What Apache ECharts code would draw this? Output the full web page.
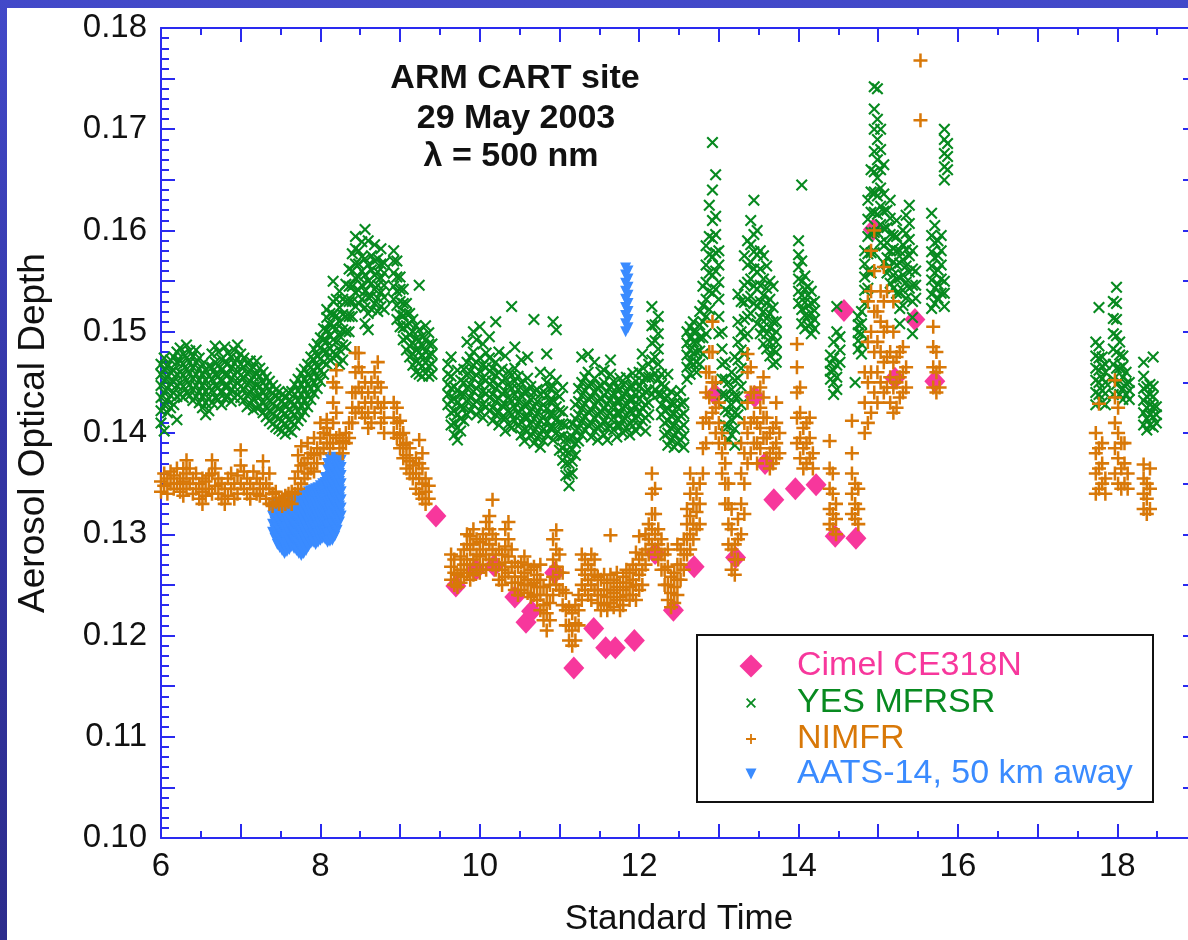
<!DOCTYPE html>
<html>
<head>
<meta charset="UTF-8">
<title>Aerosol Optical Depth - ARM CART site, 29 May 2003</title>
<script src="https://cdn.jsdelivr.net/npm/echarts@6/dist/echarts.min.js"></script>
<style>
  html, body { margin: 0; padding: 0; width: 1188px; height: 940px; overflow: hidden;
    background: linear-gradient(180deg, #4249c9 0%, #3436a6 45%, #2c2c8c 100%); }
  #chart { position: absolute; left: 7px; top: 8px; width: 1181px; height: 932px; background: #fff; }
</style>
</head>
<body>
<div id="chart"></div>
<script>
// tick labels
var xLabels = [6, 8, 10, 12, 14, 16, 18];
var yLabels = ['0.10', '0.11', '0.12', '0.13', '0.14', '0.15', '0.16', '0.17', '0.18'];

// Cimel CE318N sun photometer
var cimel = [
  [9.45,0.1318],[9.70,0.1249],[9.95,0.1265],[10.18,0.1269],[10.44,0.1238],[10.58,0.1213],
  [10.65,0.1224],[10.94,0.1262],[11.18,0.1168],[11.43,0.1207],[11.58,0.1188],[11.70,0.1188],
  [11.94,0.1195],[12.20,0.1281],[12.43,0.1225],[12.69,0.1268],[12.95,0.1438],[13.21,0.1277],
  [13.45,0.1436],[13.58,0.1370],[13.69,0.1334],[13.96,0.1345],[14.22,0.1349],[14.46,0.1298],
  [14.57,0.1521],[14.72,0.1296],[14.94,0.1601],[15.21,0.1454],[15.46,0.1512],[15.71,0.1451]
];

// YES MFRSR: time, then the values read at that time
var mfrsrRows = [
  [6.00,.1410,.1422,.1435,.1447,.1458,.1468],[6.04,.1402,.1428,.1440,.1452,.1463,.1474],[6.08,.1420,.1432,.1444,.1455,.1466],
  [6.12,.1425,.1437,.1449,.1460,.1472],[6.16,.1428,.1440,.1451,.1462,.1475],[6.20,.1413,.1436,.1447,.1458,.1470,.1480],
  [6.24,.1438,.1449,.1460,.1471,.1484],[6.28,.1435,.1446,.1457,.1468,.1478],[6.32,.1440,.1452,.1463,.1474,.1487],
  [6.36,.1437,.1448,.1459,.1470,.1481],[6.40,.1432,.1443,.1454,.1465,.1476],[6.44,.1436,.1447,.1458,.1470,.1482],
  [6.48,.1430,.1441,.1452,.1463,.1474],[6.52,.1425,.1436,.1447,.1458,.1468],[6.56,.1418,.1430,.1441,.1452,.1462],
  [6.60,.1422,.1434,.1445,.1456,.1466],[6.64,.1430,.1442,.1453,.1465,.1478],[6.68,.1435,.1447,.1458,.1470,.1486],
  [6.72,.1433,.1445,.1456,.1467,.1480],[6.76,.1428,.1440,.1451,.1462,.1473],[6.80,.1434,.1446,.1458,.1470,.1485],
  [6.84,.1436,.1447,.1458,.1469,.1479],[6.88,.1431,.1442,.1453,.1464,.1475],[6.92,.1435,.1446,.1457,.1469,.1482],
  [6.96,.1438,.1450,.1461,.1473,.1487],[7.00,.1435,.1446,.1457,.1468,.1478],[7.04,.1432,.1443,.1454,.1465,.1474],
  [7.08,.1426,.1437,.1448,.1459,.1469],[7.12,.1429,.1440,.1451,.1462,.1471],[7.16,.1423,.1434,.1445,.1456,.1465],
  [7.20,.1425,.1436,.1447,.1458,.1471],[7.24,.1426,.1436,.1446,.1456,.1464],[7.28,.1420,.1430,.1440,.1450,.1460],
  [7.32,.1416,.1426,.1436,.1446,.1455],[7.36,.1412,.1422,.1432,.1442,.1451],[7.40,.1409,.1419,.1429,.1439,.1447],
  [7.44,.1406,.1416,.1426,.1436,.1443],[7.48,.1404,.1414,.1424,.1434,.1441],[7.52,.1402,.1412,.1422,.1431,.1438],
  [7.56,.1399,.1409,.1419,.1428,.1436],[7.60,.1403,.1413,.1423,.1432,.1440],[7.64,.1401,.1411,.1421,.1431,.1441],
  [7.68,.1408,.1418,.1428,.1438,.1448],[7.72,.1412,.1422,.1432,.1442,.1453],[7.76,.1416,.1427,.1438,.1448,.1459],
  [7.80,.1421,.1432,.1443,.1453,.1463],[7.84,.1426,.1437,.1448,.1458,.1468],[7.88,.1433,.1444,.1455,.1465,.1475],
  [7.92,.1439,.1450,.1461,.1472,.1483],[7.96,.1444,.1455,.1466,.1477,.1488],[8.00,.1451,.1462,.1473,.1484,.1494],
  [8.04,.1458,.1470,.1481,.1492,.1503],[8.08,.1468,.1480,.1491,.1502,.1514,.1522],[8.12,.1472,.1484,.1496,.1507,.1518],
  [8.16,.1480,.1492,.1505,.1517,.1530,.1550],[8.20,.1476,.1490,.1503,.1516,.1532],[8.24,.1468,.1482,.1496,.1510,.1524,.1540],
  [8.28,.1472,.1487,.1502,.1517,.1532],[8.32,.1485,.1500,.1515,.1530,.1547],[8.36,.1500,.1515,.1530,.1545,.1562],
  [8.40,.1515,.1530,.1545,.1560,.1577],[8.44,.1525,.1539,.1553,.1567,.1582,.1594],[8.48,.1528,.1541,.1554,.1567,.1580],
  [8.52,.1532,.1546,.1560,.1574,.1589],[8.56,.1508,.1524,.1540,.1556,.1572,.1601],[8.60,.1502,.1518,.1534,.1550,.1566,.1590],
  [8.64,.1522,.1535,.1548,.1561,.1575],[8.68,.1528,.1542,.1556,.1570,.1586],[8.72,.1520,.1533,.1546,.1559,.1572],
  [8.76,.1525,.1539,.1553,.1567,.1582],[8.80,.1522,.1534,.1546,.1558,.1568],[8.92,.1532,.1545,.1558,.1570,.1580],
  [8.96,.1512,.1526,.1540,.1554,.1570],[9.00,.1505,.1517,.1530,.1542,.1554],[9.04,.1492,.1504,.1516,.1528,.1542],
  [9.08,.1482,.1494,.1506,.1518,.1528],[9.12,.1475,.1486,.1497,.1508,.1518],[9.16,.1467,.1478,.1489,.1500,.1512],
  [9.20,.1460,.1471,.1482,.1493,.1506],[9.24,.1458,.1469,.1480,.1491,.1502,.1546],[9.28,.1456,.1466,.1476,.1486,.1496],
  [9.32,.1459,.1470,.1481,.1492,.1506],[9.36,.1456,.1466,.1477,.1488,.1499],[9.40,.1458,.1468,.1478,.1488],
  [9.60,.1428,.1438,.1448,.1458,.1468],[9.64,.1408,.1420,.1432,.1444,.1456,.1475],[9.68,.1398,.1410,.1422,.1434,.1446],
  [9.72,.1393,.1405,.1418,.1430,.1442,.1462],[9.76,.1402,.1414,.1426,.1438,.1452],[9.80,.1412,.1425,.1438,.1450,.1463],
  [9.84,.1418,.1431,.1444,.1457,.1470,.1490],[9.88,.1422,.1435,.1448,.1461,.1475],[9.92,.1428,.1441,.1454,.1467,.1480,.1500],
  [9.96,.1418,.1431,.1444,.1457,.1470,.1492],[10.00,.1422,.1435,.1448,.1461,.1474,.1505],[10.04,.1415,.1428,.1441,.1454,.1467,.1488],
  [10.08,.1426,.1439,.1452,.1465,.1479],[10.12,.1422,.1435,.1448,.1461,.1474,.1495],[10.16,.1412,.1425,.1438,.1451,.1464],
  [10.20,.1418,.1431,.1444,.1457,.1470,.1510],[10.24,.1408,.1421,.1434,.1447,.1460,.1480],[10.28,.1415,.1427,.1439,.1451,.1463],
  [10.32,.1402,.1415,.1428,.1441,.1454,.1476],[10.36,.1409,.1422,.1435,.1448,.1461],[10.40,.1405,.1418,.1431,.1444,.1457,.1525],
  [10.44,.1412,.1425,.1438,.1451,.1464,.1485],[10.48,.1407,.1419,.1431,.1443,.1456],[10.52,.1398,.1411,.1424,.1437,.1450,.1472],
  [10.56,.1392,.1404,.1416,.1428,.1441],[10.60,.1402,.1415,.1428,.1441,.1454,.1475],[10.64,.1397,.1409,.1421,.1433,.1446],
  [10.68,.1390,.1402,.1414,.1426,.1440,.1512],[10.72,.1395,.1407,.1419,.1431,.1443],[10.76,.1386,.1399,.1412,.1425,.1438,.1460],
  [10.80,.1392,.1404,.1416,.1428,.1441],[10.84,.1398,.1411,.1424,.1437,.1450,.1478],[10.88,.1405,.1418,.1431,.1444,.1458],
  [10.92,.1393,.1406,.1419,.1432,.1446,.1510],[10.96,.1400,.1413,.1426,.1439,.1452,.1502],[11.00,.1383,.1396,.1409,.1422,.1436],
  [11.04,.1373,.1385,.1397,.1409,.1421,.1445],[11.08,.1358,.1370,.1382,.1394,.1408],[11.12,.1348,.1359,.1370,.1381,.1394],
  [11.16,.1360,.1372,.1384,.1396,.1409],[11.20,.1378,.1390,.1402,.1414,.1428],[11.24,.1392,.1405,.1418,.1431,.1444],
  [11.28,.1398,.1411,.1424,.1437,.1450,.1475],[11.32,.1403,.1416,.1429,.1442,.1455],[11.36,.1408,.1421,.1434,.1447,.1460,.1478],
  [11.40,.1396,.1409,.1422,.1435,.1448],[11.44,.1402,.1415,.1428,.1441,.1454,.1470],[11.48,.1393,.1406,.1419,.1432,.1445],
  [11.52,.1407,.1420,.1433,.1446,.1460],[11.56,.1398,.1411,.1424,.1437,.1450,.1462],[11.60,.1393,.1405,.1417,.1429,.1441],
  [11.64,.1407,.1420,.1433,.1446,.1458,.1472],[11.68,.1403,.1415,.1427,.1439,.1451],[11.72,.1396,.1408,.1420,.1432,.1445],
  [11.76,.1407,.1419,.1431,.1443,.1454],[11.80,.1400,.1412,.1424,.1436,.1448],[11.84,.1405,.1417,.1429,.1441,.1455],
  [11.88,.1398,.1410,.1422,.1434,.1446],[11.92,.1407,.1420,.1433,.1446,.1459],[11.96,.1402,.1414,.1426,.1438,.1451],
  [12.00,.1407,.1420,.1433,.1446,.1460],[12.04,.1412,.1425,.1438,.1451,.1465,.1478],[12.08,.1402,.1415,.1428,.1441,.1455],
  [12.12,.1418,.1430,.1442,.1455,.1468],[12.16,.1438,.1455,.1472,.1489,.1506,.1525],[12.20,.1443,.1459,.1475,.1491,.1507],
  [12.24,.1438,.1453,.1468,.1483,.1498,.1515],[12.28,.1418,.1428,.1438,.1448,.1458],[12.32,.1398,.1410,.1422,.1434,.1446],
  [12.36,.1388,.1400,.1412,.1424,.1436,.1458],[12.40,.1393,.1405,.1417,.1429,.1441],[12.44,.1386,.1397,.1408,.1419,.1429],
  [12.48,.1390,.1402,.1414,.1426,.1438],[12.52,.1393,.1405,.1417,.1429,.1442],[12.56,.1386,.1397,.1408,.1419,.1430],
  [12.60,.1453,.1465,.1477,.1489,.1500],[12.64,.1458,.1470,.1482,.1494,.1505],[12.68,.1468,.1479,.1490,.1500,.1510],
  [12.72,.1460,.1470,.1480,.1490,.1500],[12.76,.1468,.1481,.1494,.1507,.1520],[12.80,.1478,.1494,.1510,.1526,.1545],
  [12.84,.1498,.1515,.1532,.1549,.1566,.1585],[12.88,.1522,.1540,.1558,.1576,.1594,.1625],
  [12.92,.1538,.1556,.1574,.1592,.1610,.1640,.1687],[12.96,.1542,.1560,.1578,.1596,.1614,.1655],
  [13.00,.1498,.1515,.1532,.1549,.1566,.1580],[13.04,.1438,.1453,.1468,.1483,.1500],[13.08,.1408,.1423,.1438,.1453,.1470],
  [13.12,.1393,.1407,.1421,.1435,.1450],[13.16,.1398,.1413,.1428,.1443,.1460],[13.20,.1388,.1404,.1420,.1436,.1452,.1475],
  [13.24,.1418,.1436,.1454,.1472,.1490,.1510,.1537],[13.28,.1428,.1446,.1464,.1482,.1500,.1530],
  [13.32,.1478,.1495,.1512,.1529,.1546,.1575],[13.36,.1498,.1515,.1532,.1549,.1566,.1590],
  [13.40,.1518,.1535,.1552,.1569,.1586,.1610],[13.44,.1528,.1545,.1562,.1579,.1596,.1630],
  [13.48,.1508,.1525,.1542,.1559,.1576,.1600],[13.52,.1498,.1514,.1530,.1546,.1562,.1580],
  [13.56,.1488,.1504,.1520,.1536,.1552,.1575],[13.60,.1483,.1498,.1513,.1528,.1543,.1565],
  [13.64,.1476,.1490,.1504,.1518,.1532,.1550],[13.68,.1468,.1482,.1496,.1510,.1524,.1545],[13.72,.1470,.1480,.1490,.1500,.1510],
  [14.00,.1528,.1540,.1552,.1564,.1576,.1590],[14.04,.1508,.1522,.1536,.1550,.1570,.1645],[14.08,.1503,.1516,.1529,.1542,.1555],
  [14.12,.1506,.1516,.1526,.1536,.1545],[14.16,.1498,.1508,.1518,.1528,.1540],[14.20,.1503,.1512,.1521,.1530],
  [14.40,.1453,.1461,.1469,.1477],[14.44,.1438,.1450,.1462,.1474,.1490],[14.48,.1443,.1455,.1467,.1500,.1525],
  [14.52,.1470,.1482,.1495],[14.71,.1450],[14.75,.1483,.1491,.1499,.1507,.1515],[14.79,.1478,.1488,.1498,.1508,.1520],
  [14.83,.1528,.1541,.1554,.1567,.1580],[14.87,.1543,.1560,.1577,.1594,.1611,.1630],[14.91,.1558,.1578,.1598,.1618,.1638,.1660],
  [14.95,.1578,.1598,.1618,.1638,.1658,.1678,.1700,.1720,.1742],[14.99,.1598,.1616,.1634,.1652,.1670,.1690,.1710,.1740],
  [15.03,.1588,.1606,.1624,.1642,.1660,.1680,.1700],[15.07,.1568,.1585,.1602,.1619,.1636,.1665],
  [15.11,.1558,.1573,.1588,.1603,.1620],[15.15,.1548,.1564,.1580,.1596,.1612,.1630],[15.19,.1543,.1556,.1569,.1582,.1595],
  [15.23,.1538,.1552,.1566,.1580,.1594,.1610],[15.27,.1508,.1523,.1538,.1553,.1568,.1580],
  [15.31,.1526,.1541,.1556,.1571,.1586,.1600],[15.35,.1533,.1549,.1565,.1581,.1597,.1615],
  [15.39,.1543,.1559,.1575,.1591,.1607,.1625],[15.43,.1498,.1514,.1530,.1546,.1562,.1580],[15.47,.1533,.1546,.1560],
  [15.67,.1523,.1537,.1551,.1565,.1579,.1595,.1617],[15.71,.1528,.1543,.1558,.1573,.1588,.1605],
  [15.75,.1533,.1547,.1561,.1575,.1590],[15.79,.1538,.1552,.1566,.1580,.1595],
  [15.83,.1525,.1538,.1550,.1650,.1663,.1676,.1690,.1700],[15.87,.1660,.1673,.1686],
  [17.73,.1428,.1440,.1452,.1464,.1476,.1490],[17.77,.1438,.1450,.1462,.1474,.1486,.1524],
  [17.81,.1430,.1442,.1454,.1466,.1475],[17.85,.1428,.1439,.1450,.1460,.1468],
  [17.95,.1438,.1453,.1468,.1483,.1498,.1513,.1530],[17.99,.1448,.1464,.1480,.1496,.1512,.1528,.1544],
  [18.03,.1438,.1451,.1464,.1477,.1490],[18.07,.1433,.1444,.1455,.1466,.1476],[18.11,.1438,.1449,.1460],
  [18.15,.1433,.1442,.1450],[18.33,.1408,.1420,.1432,.1444,.1456,.1470],[18.37,.1403,.1414,.1425,.1436,.1446],
  [18.41,.1408,.1418,.1428,.1438,.1448],[18.45,.1406,.1416,.1426,.1436,.1446,.1475],[18.49,.1410,.1418,.1426]
];

// NIMFR: time, then the values read at that time
var nimfrRows = [
  [6.00,.1342,.1352],[6.04,.1348,.1360],[6.08,.1340,.1355],[6.12,.1350,.1362],[6.16,.1345,.1358],[6.20,.1350,.1365],
  [6.24,.1342,.1355],[6.28,.1338,.1352,.1365],[6.32,.1345,.1360,.1373],[6.36,.1350,.1365],[6.40,.1340,.1355],
  [6.44,.1345,.1360],[6.48,.1335,.1350],[6.52,.1330,.1342,.1355],[6.56,.1338,.1352],[6.60,.1345,.1358],
  [6.64,.1340,.1360,.1373],[6.68,.1348,.1365],[6.72,.1340,.1355],[6.76,.1335,.1350],[6.80,.1330,.1345],
  [6.84,.1338,.1355],[6.88,.1345,.1360],[6.92,.1335,.1350],[6.96,.1340,.1358],[7.00,.1350,.1368,.1383],
  [7.04,.1345,.1362],[7.08,.1340,.1355],[7.12,.1335,.1350],[7.16,.1345,.1362],[7.20,.1340,.1355],
  [7.24,.1338,.1350],[7.28,.1345,.1360,.1372],[7.32,.1335,.1350],[7.36,.1330,.1345,.1360],[7.40,.1328,.1340],
  [7.44,.1332,.1342],[7.48,.1330,.1336],[7.52,.1328,.1334],[7.56,.1330,.1338],[7.60,.1332,.1340],
  [7.64,.1330,.1342],[7.68,.1340,.1355],[7.72,.1345,.1362,.1378],[7.76,.1350,.1368,.1387],[7.80,.1355,.1370],
  [7.84,.1360,.1375,.1390],[7.88,.1365,.1380],[7.92,.1362,.1378,.1395],[7.96,.1370,.1385],[8.00,.1380,.1395,.1410],
  [8.04,.1385,.1400],[8.08,.1390,.1405,.1413],[8.12,.1385,.1398],[8.16,.1390,.1410,.1430,.1450],
  [8.20,.1395,.1420,.1445,.1462],[8.24,.1385,.1398],[8.28,.1380,.1392],[8.32,.1390,.1400],[8.36,.1395,.1410],
  [8.40,.1410,.1425,.1440],[8.44,.1420,.1440,.1460,.1479],[8.48,.1425,.1445,.1465,.1479],[8.52,.1420,.1440,.1460],
  [8.56,.1415,.1430,.1450],[8.60,.1405,.1420,.1440],[8.64,.1410,.1430,.1450],[8.68,.1420,.1440,.1460],
  [8.72,.1430,.1450,.1470],[8.76,.1410,.1425,.1445],[8.80,.1400,.1415,.1430],[8.92,.1400,.1415,.1430],
  [8.96,.1395,.1410,.1425],[9.00,.1385,.1398,.1412],[9.04,.1375,.1388,.1400],[9.08,.1365,.1378,.1390],
  [9.12,.1360,.1372,.1385],[9.16,.1355,.1368],[9.20,.1345,.1360,.1375],[9.24,.1340,.1355,.1370,.1393],
  [9.28,.1335,.1350,.1365,.1380],[9.32,.1330,.1342,.1355],[9.36,.1335,.1348],
  [9.64,.1255,.1268,.1280],[9.68,.1250,.1262,.1275],[9.72,.1248,.1260],[9.76,.1252,.1265,.1278],
  [9.80,.1258,.1270,.1285],[9.84,.1262,.1275,.1290,.1300],[9.88,.1255,.1270,.1285,.1298],[9.92,.1260,.1275,.1290,.1305],
  [9.96,.1265,.1280,.1295],[10.00,.1262,.1278,.1292],[10.04,.1270,.1285,.1300],[10.08,.1265,.1280,.1295,.1312],
  [10.12,.1275,.1290,.1305,.1318],[10.16,.1270,.1285,.1300,.1334],[10.20,.1265,.1280,.1295],[10.24,.1255,.1270,.1285],
  [10.28,.1250,.1265,.1280],[10.32,.1258,.1272,.1288,.1305],[10.36,.1262,.1278,.1295,.1312],[10.40,.1252,.1268,.1285],
  [10.44,.1245,.1258,.1272],[10.48,.1240,.1252,.1268],[10.52,.1245,.1258,.1272],[10.56,.1250,.1262,.1278],
  [10.60,.1242,.1255,.1270],[10.64,.1238,.1250,.1265],[10.68,.1240,.1252,.1268],[10.72,.1235,.1248,.1260],
  [10.76,.1225,.1240,.1255,.1270],[10.80,.1215,.1230,.1248],[10.84,.1205,.1222,.1240],[10.88,.1215,.1232,.1250],
  [10.92,.1240,.1258,.1275,.1295],[10.96,.1250,.1268,.1285,.1304],[11.00,.1245,.1262,.1280],[11.04,.1230,.1245,.1262],
  [11.08,.1210,.1225,.1242],[11.12,.1195,.1210,.1228],[11.16,.1190,.1205,.1222],[11.20,.1195,.1212,.1230],
  [11.24,.1210,.1225,.1240],[11.28,.1235,.1250,.1265,.1280],[11.32,.1245,.1260,.1275],[11.36,.1240,.1255,.1270],
  [11.40,.1235,.1250,.1265,.1280],[11.44,.1245,.1260,.1275],[11.48,.1232,.1245,.1258],[11.52,.1225,.1240,.1255],
  [11.56,.1230,.1245,.1260],[11.60,.1225,.1238,.1252],[11.64,.1232,.1245,.1260,.1299],[11.68,.1228,.1242,.1255],
  [11.72,.1235,.1248,.1262],[11.76,.1225,.1238,.1252],[11.80,.1230,.1245,.1258],[11.84,.1240,.1252,.1265],
  [11.88,.1235,.1248,.1262],[11.92,.1240,.1255,.1270],[11.96,.1235,.1250,.1265,.1282],[12.00,.1245,.1260,.1275,.1298],
  [12.04,.1250,.1265,.1280],[12.08,.1270,.1285,.1300],[12.12,.1280,.1295,.1310],[12.16,.1290,.1305,.1320,.1340,.1360],
  [12.20,.1285,.1300,.1320,.1345],[12.24,.1275,.1290,.1305],[12.28,.1265,.1280,.1295],[12.32,.1250,.1265,.1280],
  [12.36,.1235,.1250,.1268,.1285],[12.40,.1228,.1242,.1258],[12.44,.1232,.1248,.1262],[12.48,.1240,.1255,.1270,.1290],
  [12.52,.1255,.1270,.1285],[12.56,.1265,.1280,.1295],[12.60,.1280,.1295,.1310,.1325],[12.64,.1285,.1300,.1318,.1340,.1360],
  [12.68,.1295,.1310,.1330,.1350],[12.72,.1305,.1322,.1340],[12.76,.1310,.1330,.1350],[12.80,.1360,.1385,.1410],
  [12.84,.1390,.1415,.1440,.1460],[12.88,.1410,.1435,.1460,.1480],[12.92,.1420,.1450,.1480,.1510],[12.96,.1400,.1425,.1450],
  [13.00,.1390,.1410,.1430],[13.04,.1360,.1380,.1400],[13.08,.1330,.1350,.1370,.1390],[13.12,.1290,.1310,.1330,.1350],
  [13.16,.1265,.1285,.1305,.1325],[13.20,.1260,.1275,.1290],[13.24,.1275,.1295,.1315],[13.28,.1300,.1330,.1360,.1390],
  [13.32,.1320,.1350,.1380,.1410],[13.36,.1370,.1400,.1430,.1460,.1478],[13.40,.1380,.1410,.1440,.1465],
  [13.44,.1390,.1415,.1440],[13.48,.1370,.1390,.1410],[13.52,.1385,.1405,.1425,.1445],[13.56,.1395,.1415,.1435,.1455],
  [13.60,.1375,.1395,.1415],[13.64,.1365,.1380,.1400],[13.68,.1370,.1385,.1405],[13.72,.1375,.1390,.1410,.1430],
  [13.76,.1380,.1400],[13.98,.1390,.1415,.1440,.1465,.1488],[14.02,.1375,.1395,.1420,.1445],[14.06,.1365,.1385,.1405],
  [14.10,.1370,.1390,.1410],[14.14,.1375,.1395,.1415],[14.18,.1365,.1380],[14.39,.1310,.1325,.1345,.1365,.1392],
  [14.43,.1305,.1320,.1340,.1360],[14.47,.1300,.1315,.1330],[14.67,.1320,.1340,.1360,.1380,.1412],
  [14.71,.1315,.1330,.1350],[14.75,.1310,.1325,.1345],[14.83,.1400,.1430,.1460],[14.87,.1410,.1450,.1490,.1530],
  [14.91,.1420,.1460,.1500,.1540,.1580],[14.95,.1440,.1480,.1520,.1560,.1600],[14.99,.1430,.1460,.1490,.1520],
  [15.03,.1450,.1480,.1510,.1540],[15.07,.1440,.1470,.1500,.1530,.1564],[15.11,.1445,.1475,.1505,.1540],
  [15.15,.1430,.1455,.1480],[15.19,.1420,.1445,.1470,.1500,.1530],[15.23,.1425,.1450,.1475],[15.27,.1435,.1455,.1480],
  [15.31,.1440,.1460,.1485],[15.35,.1445,.1465],[15.53,.1709,.1768],[15.69,.1445,.1465,.1485,.1505],
  [15.73,.1440,.1460,.1480],[15.77,.1445,.1465],
  [17.73,.1340,.1360,.1380,.1400],[17.77,.1345,.1365,.1385,.1429],[17.81,.1350,.1370,.1390],[17.85,.1340,.1355],
  [17.97,.1360,.1385,.1410,.1435,.1452],[18.01,.1350,.1375,.1400,.1425],[18.05,.1345,.1365,.1390],
  [18.09,.1350,.1370,.1390],[18.13,.1345,.1360],[18.33,.1325,.1340,.1355,.1369],[18.37,.1320,.1335,.1350],
  [18.41,.1325,.1345,.1365]
];

// AATS-14 airborne sun photometer: time, then values
var aatsRows = [
  [7.40,.1302,.1310,.1318,.1326],[7.43,.1296,.1304,.1312,.1320,.1328],[7.46,.1290,.1298,.1306,.1314,.1322,.1330],
  [7.49,.1287,.1295,.1303,.1311,.1319,.1327],[7.52,.1284,.1292,.1300,.1308,.1316,.1324,.1330],
  [7.55,.1281,.1289,.1297,.1305,.1313,.1321,.1329],[7.58,.1283,.1291,.1299,.1307,.1315,.1323,.1330],
  [7.61,.1285,.1293,.1301,.1309,.1317,.1325,.1331],[7.64,.1288,.1296,.1304,.1312,.1320,.1328,.1333],
  [7.67,.1286,.1294,.1302,.1310,.1318,.1326,.1334],[7.70,.1284,.1292,.1300,.1308,.1316,.1324,.1332,.1336],
  [7.73,.1281,.1289,.1297,.1305,.1313,.1321,.1329,.1337],[7.76,.1279,.1287,.1295,.1303,.1311,.1319,.1327,.1335,.1338],
  [7.79,.1281,.1289,.1297,.1305,.1313,.1321,.1329,.1337,.1340],[7.82,.1284,.1292,.1300,.1308,.1316,.1324,.1332,.1340],
  [7.85,.1288,.1296,.1304,.1312,.1320,.1328,.1336,.1342],[7.88,.1291,.1299,.1307,.1315,.1323,.1331,.1339,.1343],
  [7.91,.1292,.1300,.1308,.1316,.1324,.1332,.1340,.1344],[7.94,.1290,.1298,.1306,.1314,.1322,.1330,.1338,.1345],
  [7.97,.1292,.1300,.1308,.1316,.1324,.1332,.1340,.1346],[8.00,.1294,.1302,.1310,.1318,.1326,.1334,.1342,.1348],
  [8.03,.1296,.1304,.1312,.1320,.1328,.1336,.1344,.1350],[8.06,.1295,.1303,.1311,.1319,.1327,.1335,.1343,.1351,.1356],
  [8.09,.1292,.1300,.1308,.1316,.1324,.1332,.1340,.1348,.1356,.1364,.1370],
  [8.12,.1293,.1301,.1309,.1317,.1325,.1333,.1341,.1349,.1357,.1365,.1374],
  [8.15,.1294,.1302,.1310,.1318,.1326,.1334,.1342,.1350,.1358,.1366,.1376],
  [8.18,.1298,.1306,.1314,.1322,.1330,.1338,.1346,.1354,.1362,.1370,.1375],
  [8.21,.1304,.1312,.1320,.1328,.1336,.1344,.1352,.1360,.1368,.1375],
  [8.24,.1312,.1320,.1328,.1336,.1344,.1352,.1360,.1368,.1375],[8.26,.1318,.1326,.1334,.1342,.1350,.1358,.1366,.1373],
  [11.83,.1500,.1508,.1516,.1524,.1532,.1540,.1548,.1556,.1563],[11.86,.1504,.1512,.1520,.1528,.1536,.1544,.1552,.1560]
];

function rowsToPoints(rows) {
  var pts = [];
  rows.forEach(function (r) {
    for (var i = 1; i < r.length; i++) pts.push([r[0], r[i]]);
  });
  return pts;
}

var FONT = '"Liberation Sans", Arial, Helvetica, sans-serif';
var AXIS_BLUE = '#2a2af0';
var PINK = '#f7379c', GREEN = '#088a20', ORANGE = '#d87808', BLUE = '#3a8bff';

var crossPath = 'path://M0,1.25L1.25,0L5,3.75L8.75,0L10,1.25L6.25,5L10,8.75L8.75,10L5,6.25L1.25,10L0,8.75L3.75,5Z';
var plusPath = 'path://M4.1,0H5.9V4.1H10V5.9H5.9V10H4.1V5.9H0V4.1H4.1Z';
var triPath = 'path://M0,0L10,0L5,10Z';
var diamondPath = 'path://M5,0L10,5L5,10L0,5Z';

var tickStyle = { color: AXIS_BLUE, width: 2 };

function xAxisOpt(pos, showLabel) {
  return {
    type: 'value', position: pos, min: 6, max: 19, interval: 1,
    axisLine: { show: true, onZero: false, lineStyle: tickStyle },
    axisTick: { show: true, inside: true, length: 14, lineStyle: tickStyle },
    minorTick: { show: true, splitNumber: 2, length: 7, lineStyle: tickStyle },
    splitLine: { show: false },
    axisLabel: {
      show: showLabel, margin: 12, color: '#111', fontSize: 33, fontFamily: FONT,
      formatter: function (v) { return xLabels.indexOf(Math.round(v * 100) / 100) >= 0 ? String(v) : ''; }
    }
  };
}

function legendOpt(name, icon, left, top, h, color) {
  return {
    data: [{ name: name, icon: icon }], left: left, top: top, itemWidth: 82, itemHeight: h,
    padding: 0, selectedMode: false, textStyle: { color: color, fontSize: 34, fontFamily: FONT }
  };
}

function titleLine(text, x, y) {
  return { type: 'text', x: x, y: y, style: { text: text, align: 'center', verticalAlign: 'middle',
    fontSize: 34, fontWeight: 'bold', fontFamily: FONT, fill: '#111' } };
}

var chart = echarts.init(document.getElementById('chart'), null, { renderer: 'canvas' });

var xBottom = xAxisOpt('bottom', true);
xBottom.name = 'Standard Time';
xBottom.nameLocation = 'middle';
xBottom.nameGap = 64;
xBottom.nameTextStyle = { color: '#111', fontSize: 35, fontFamily: FONT };

var option = {
  animation: false,
  backgroundColor: '#ffffff',
  grid: { left: 154, top: 20, right: -9, bottom: 102, containLabel: false, outerBoundsMode: 'none' },
  xAxis: [xBottom, xAxisOpt('top', false)],
  yAxis: [
    {
      type: 'value', position: 'left', min: 0.10, max: 0.18, interval: 0.005,
      name: 'Aerosol Optical Depth', nameLocation: 'middle', nameGap: 109,
      nameTextStyle: { color: '#111', fontSize: 37, fontFamily: FONT },
      axisLine: { show: true, onZero: false, lineStyle: tickStyle },
      axisTick: { show: true, inside: true, length: 14, lineStyle: tickStyle },
      minorTick: { show: true, splitNumber: 5, length: 8, lineStyle: tickStyle },
      splitLine: { show: false },
      axisLabel: {
        margin: 14, color: '#111', fontSize: 33, fontFamily: FONT,
        formatter: function (v) { var t = v.toFixed(2); return (Math.abs(v * 100 - Math.round(v * 100)) < 1e-6 && yLabels.indexOf(t) >= 0) ? t : ''; }
      }
    },
    {
      type: 'value', position: 'right', min: 0.10, max: 0.18, interval: 0.005,
      axisLine: { show: true, onZero: false, lineStyle: tickStyle },
      axisTick: { show: true, inside: true, length: 14, lineStyle: tickStyle },
      splitLine: { show: false },
      axisLabel: { show: false }
    }
  ],
  legend: [
    legendOpt('Cimel CE318N', diamondPath, 732.5, 641, 23, PINK),
    legendOpt('YES MFRSR', crossPath, 739, 678, 10, GREEN),
    legendOpt('NIMFR', plusPath, 739, 714, 10, ORANGE),
    legendOpt('AATS-14, 50 km away', triPath, 738.5, 749, 11, BLUE)
  ],
  graphic: [
    { type: 'rect', shape: { x: 690, y: 627, width: 456, height: 167 }, style: { fill: 'none', stroke: '#111', lineWidth: 2 }, z: 1 },
    titleLine('ARM CART site', 508, 71),
    titleLine('29 May 2003', 509, 111),
    titleLine('λ = 500 nm', 504, 149)
  ],
  series: [
    { name: 'Cimel CE318N', type: 'scatter', data: cimel, symbol: 'diamond', symbolSize: [21, 23],
      itemStyle: { color: PINK, opacity: 1 }, progressive: 0, silent: true },
    { name: 'YES MFRSR', type: 'scatter', data: rowsToPoints(mfrsrRows), symbol: crossPath, symbolSize: 12,
      itemStyle: { color: GREEN, opacity: 1 }, progressive: 0, silent: true },
    { name: 'AATS-14, 50 km away', type: 'scatter', data: rowsToPoints(aatsRows), symbol: triPath, symbolSize: [11, 11],
      itemStyle: { color: BLUE, opacity: 1 }, progressive: 0, silent: true },
    { name: 'NIMFR', type: 'scatter', data: rowsToPoints(nimfrRows), symbol: plusPath, symbolSize: 14,
      itemStyle: { color: ORANGE, opacity: 1 }, progressive: 0, silent: true }
  ]
};
chart.setOption(option);
</script>
</body>
</html>
